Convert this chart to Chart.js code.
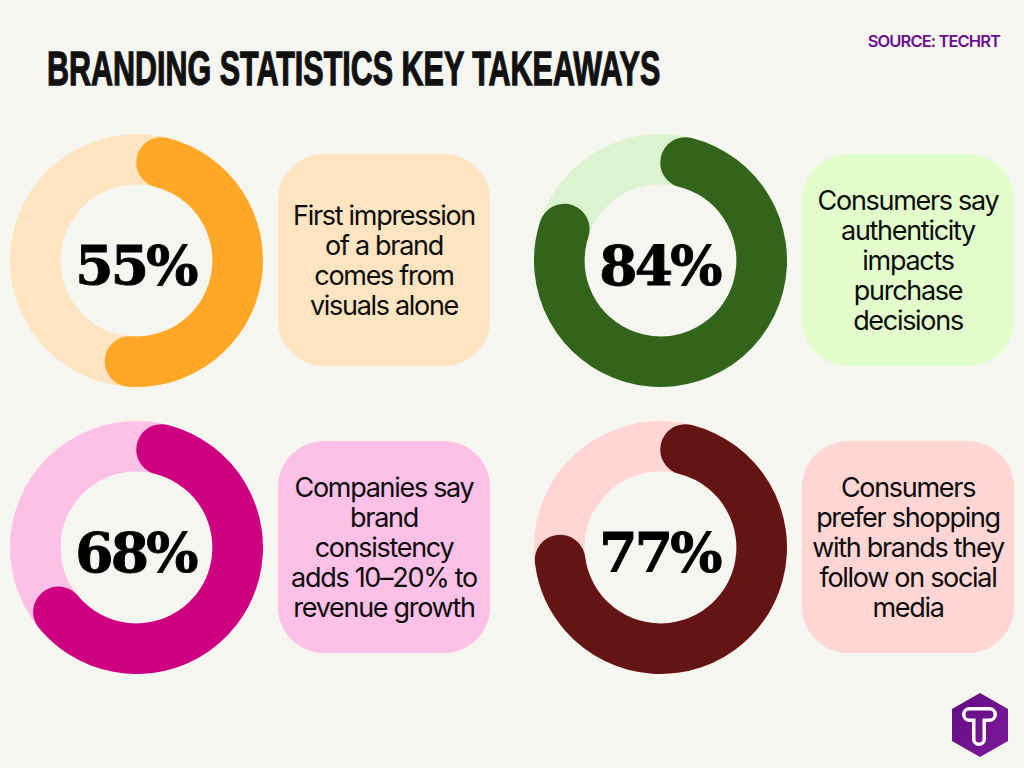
<!DOCTYPE html>
<html>
<head>
<meta charset="utf-8">
<script src="https://cdn.jsdelivr.net/npm/chart.js@4/dist/chart.umd.min.js"></script>
<style>
html, body { margin: 0; padding: 0; }
body { width: 1024px; height: 768px; background: #f6f6f1; position: relative; overflow: hidden; font-family: Inter, sans-serif; color: #0c0c0c; }
#title { position: absolute; left: 47px; top: 41px; font: bold 48px "Liberation Sans", sans-serif; white-space: nowrap; transform-origin: left top; -webkit-text-stroke: 1.3px #111; color: #111; }
#source { position: absolute; right: 24px; top: 31px; font: 600 16.5px Inter, sans-serif; letter-spacing: -0.9px; color: #6a0f8e; }
.donut { position: absolute; width: 253px; height: 253px; }
.pct { position: absolute; left: -1px; top: 5px; width: 253px; height: 253px; text-align: center; font: bold 55px/253px "DejaVu Serif", serif; letter-spacing: -2.8px; color: #000; -webkit-text-stroke: 0.9px #000; }
.card { position: absolute; box-sizing: border-box; padding-top: 2px; width: 212px; height: 212px; border-radius: 46px; display: flex; align-items: center; justify-content: center; text-align: center; font-size: 27px; line-height: 30px; letter-spacing: -1.3px; }
#logo { position: absolute; left: 951px; top: 692px; }
</style>
</head>
<body>
<div id="title">BRANDING STATISTICS KEY TAKEAWAYS</div>
<div id="source">SOURCE: TECHRT</div>
<svg id="logo" width="58" height="66" viewBox="0 0 58 66">
  <defs><linearGradient id="lg" x1="0" y1="0" x2="1" y2="1"><stop offset="0" stop-color="#620c80"/><stop offset="1" stop-color="#7d1a9c"/></linearGradient></defs>
  <polygon points="29,1 57,17 57,49 29,65 1,49 1,17" fill="url(#lg)"/>
  <path d="M18.5 16.75 H38.5 A5.75 5.75 0 0 1 38.5 28.25 H33.25 V47 A5.25 5.25 0 0 1 22.75 47 V28.25 H18.5 A5.75 5.75 0 0 1 18.5 16.75 Z" fill="none" stroke="#fff" stroke-width="3.5"/>
</svg>
<script>
const labels = [
  ['First impression', 'of a brand', 'comes from', 'visuals alone'],
  ['Consumers say', 'authenticity', 'impacts', 'purchase', 'decisions'],
  ['Companies say', 'brand', 'consistency', 'adds 10–20% to', 'revenue growth'],
  ['Consumers', 'prefer shopping', 'with brands they', 'follow on social', 'media']
];
const values = [55, 84, 68, 77];
const rest = [45, 16, 32, 23];

const arcColors = ['#ffa726', '#32641b', '#cc0080', '#651414'];
const trackColors = ['#fee4c0', '#dcf3d0', '#fdc0e6', '#ffd6d4'];
const cardColors = ['#fee4c0', '#e2fdcb', '#fdc0e6', '#ffd6d4'];
const donutPos = [[10, 134], [534, 134], [10, 421], [534, 421]];
const cardPos = [[278, 154], [802, 154], [278, 441], [802, 441]];

// fit the title to the width it has in the picture, no condensed font here
const title = document.getElementById('title');
title.style.transform = 'scaleX(' + (613 / title.offsetWidth) + ')';

// full ring behind the rounded slice, so the round ends sit on the track
const trackRing = {
  id: 'trackRing',
  beforeDatasetsDraw(chart) {
    const arc = chart.getDatasetMeta(0).data[0];
    const c = chart.ctx;
    c.save();
    c.beginPath();
    c.arc(arc.x, arc.y, (arc.outerRadius + arc.innerRadius) / 2, 0, Math.PI * 2);
    c.lineWidth = arc.outerRadius - arc.innerRadius;
    c.strokeStyle = chart.options.trackColor;
    c.stroke();
    c.restore();
  }
};

values.forEach((v, i) => {
  const box = document.createElement('div');
  box.className = 'donut';
  box.style.left = donutPos[i][0] + 'px';
  box.style.top = donutPos[i][1] + 'px';
  const canvas = document.createElement('canvas');
  box.appendChild(canvas);
  const pct = document.createElement('div');
  pct.className = 'pct';
  pct.textContent = v + '%';
  box.appendChild(pct);
  document.body.appendChild(box);

  new Chart(canvas, {
    type: 'doughnut',
    data: {
      labels: ['value', 'rest'],
      datasets: [{
        data: [v, rest[i]],
        backgroundColor: [arcColors[i], 'transparent'],
        borderWidth: 0,
        borderRadius: ctx => ctx.dataIndex === 0 ? 26 : 0
      }]
    },
    options: {
      responsive: true,
      maintainAspectRatio: false,
      animation: false,
      cutout: '60%',
      trackColor: trackColors[i],
      plugins: { legend: { display: false }, tooltip: { enabled: false } }
    },
    plugins: [trackRing]
  });

  const card = document.createElement('div');
  card.className = 'card';
  card.style.left = cardPos[i][0] + 'px';
  card.style.top = cardPos[i][1] + 'px';
  card.style.background = cardColors[i];
  card.innerHTML = '<div>' + labels[i].join('<br>') + '</div>';
  document.body.appendChild(card);
});
</script>
</body>
</html>
